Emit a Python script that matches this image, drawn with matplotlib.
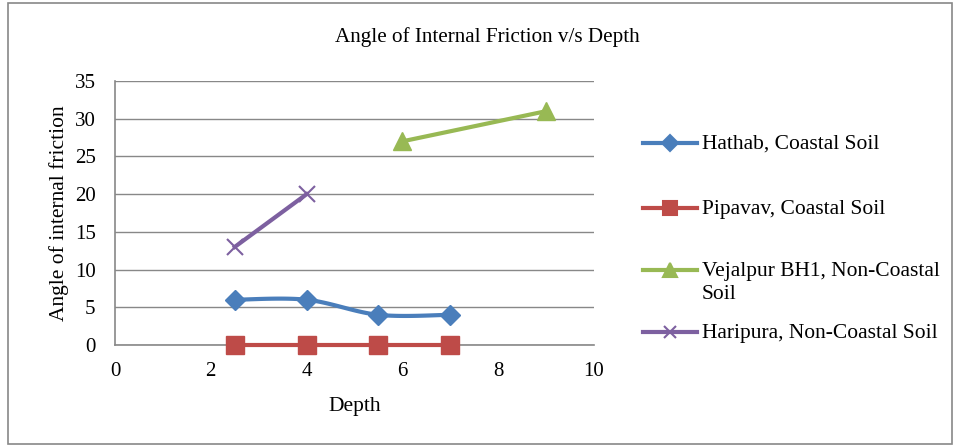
import numpy as np
import matplotlib
matplotlib.use("Agg")
import matplotlib.pyplot as plt
from matplotlib.lines import Line2D
from matplotlib.patches import Rectangle

plt.rcParams['font.family'] = ['Liberation Serif', 'DejaVu Serif']

# data
hathab_x = [2.5, 4, 5.5, 7]
hathab_y = [6, 6, 4, 4]
pipavav_x = [2.5, 4, 5.5, 7]
pipavav_y = [0, 0, 0, 0]
vejalpur_x = [6, 9]
vejalpur_y = [27, 31]
haripura_x = [2.5, 4]
haripura_y = [13, 20]

labels = ["Hathab, Coastal Soil", "Pipavav, Coastal Soil",
          "Vejalpur BH1, Non-Coastal\nSoil", "Haripura, Non-Coastal Soil"]


def smooth(x, y, n=30):
    # excel-like smoothed line (catmull-rom through the points)
    x = np.asarray(x, float)
    y = np.asarray(y, float)
    px = np.concatenate([[x[0]], x, [x[-1]]])
    py = np.concatenate([[y[0]], y, [y[-1]]])
    xs, ys = [], []
    for i in range(1, len(px) - 2):
        t = np.linspace(0, 1, n)
        for p, out in ((px, xs), (py, ys)):
            p0, p1, p2, p3 = p[i - 1], p[i], p[i + 1], p[i + 2]
            out.extend(0.5 * ((2 * p1) + (-p0 + p2) * t
                              + (2 * p0 - 5 * p1 + 4 * p2 - p3) * t ** 2
                              + (-p0 + 3 * p1 - 3 * p2 + p3) * t ** 3))
    return xs, ys


fig = plt.figure(figsize=(9.56, 4.46), dpi=100)
fig.patches.append(Rectangle((8 / 956, 2 / 446), 944 / 956, 441 / 446,
                             transform=fig.transFigure, fill=False,
                             edgecolor='#888888', linewidth=1.2))
ax = fig.add_axes([115 / 956, 1 - 345 / 446, 479 / 956, 264 / 446])

blue, red, green, purple = '#4A7EBB', '#BE4B48', '#98B954', '#7D60A0'
lw = 3

sx, sy = smooth(hathab_x, hathab_y)
ax.plot(sx, sy, color=blue, lw=lw, zorder=3)
ax.plot(hathab_x, hathab_y, 'D', color=blue, ms=10, zorder=4)
ax.plot(pipavav_x, pipavav_y, '-s', color=red, lw=lw, ms=13, zorder=3, clip_on=False)
ax.plot(vejalpur_x, vejalpur_y, '-^', color=green, lw=lw, ms=13, zorder=3)
ax.plot(haripura_x, haripura_y, '-x', color=purple, lw=lw, ms=12, mew=1.5, zorder=3)

ax.set_xlim(0, 10)
ax.set_ylim(0, 35)
ax.set_xticks(range(0, 11, 2))
ax.set_yticks(range(0, 36, 5))
ax.tick_params(length=0, labelsize=15)
ax.tick_params(axis='x', pad=12)
ax.tick_params(axis='y', pad=14)
ax.yaxis.grid(True, color='#888888', lw=1)
ax.set_axisbelow(True)
for s in ['top', 'right']:
    ax.spines[s].set_visible(False)
for s in ['left', 'bottom']:
    ax.spines[s].set_color('#888888')
    ax.spines[s].set_linewidth(1.2)

ax.set_xlabel('Depth', fontsize=15.5, labelpad=12)
ax.set_ylabel('Angle of internal friction', fontsize=15.5, labelpad=4)
fig.text(487 / 956, 1 - 37 / 446, 'Angle of Internal Friction v/s Depth',
         ha='center', va='center', fontsize=15.2)

# legend drawn by hand so the two-line entry lines up like the original
leg_y = [143, 208, 270, 332]
styles = [('D', blue, 8), ('s', red, 10), ('^', green, 10), ('x', purple, 9)]
for yy, lab, (m, c, ms) in zip(leg_y, labels, styles):
    fy = 1 - yy / 446
    fig.add_artist(Line2D([643 / 956, 697 / 956], [fy, fy], transform=fig.transFigure,
                          color=c, lw=lw))
    fig.add_artist(Line2D([670 / 956], [fy], transform=fig.transFigure,
                          color=c, marker=m, markersize=ms, mew=1.5))
    for k, part in enumerate(lab.split('\n')):
        fig.text(702 / 956, 1 - (yy + 6 + 23 * k) / 446, part, ha='left',
                 va='baseline', fontsize=15.5)

fig.savefig('out.png', dpi=100)
